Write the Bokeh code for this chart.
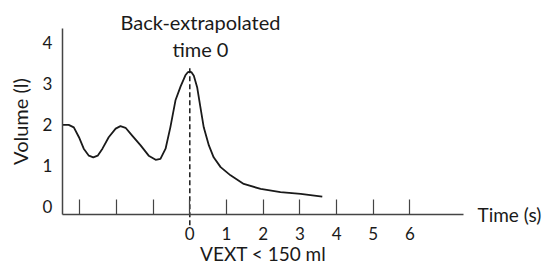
from bokeh.plotting import figure
from bokeh.models import LinearAxis, FixedTicker, Range1d
from bokeh.core.properties import value
from bokeh.embed import file_html
from bokeh.resources import INLINE

# Data
time_s = [-3.46, -3.30, -3.16, -3.02, -2.89, -2.75, -2.63, -2.51, -2.38, -2.21,
          -2.02, -1.89, -1.75, -1.57, -1.34, -1.12, -0.93, -0.80, -0.66, -0.53,
          -0.39, -0.25, -0.12, -0.06, 0.0, 0.05, 0.11, 0.20, 0.29, 0.38, 0.52, 0.65,
          0.84, 1.11, 1.47, 1.93, 2.47, 3.02, 3.61]
volume_l = [1.99, 1.99, 1.93, 1.69, 1.41, 1.24, 1.20, 1.24, 1.41, 1.69,
            1.90, 1.96, 1.92, 1.73, 1.49, 1.24, 1.14, 1.16, 1.41, 1.93,
            2.59, 2.93, 3.20, 3.27, 3.29, 3.27, 3.19, 2.91, 2.42, 1.93, 1.49, 1.20,
            0.96, 0.76, 0.55, 0.43, 0.35, 0.31, 0.24]
x_ticks = [-3, -2, -1, 0, 1, 2, 3, 4, 5, 6]
y_ticks = [0, 1, 2, 3, 4]
marker_x = [0, 0]
marker_y = [-0.46, 3.44]
annot_lines = ["Back-extrapolated", "time 0"]
x_label = "VEXT < 150 ml"
y_label = "Volume (l)"
t_label = "Time (s)"

FONT = "Lato"
INK = "#1a1a1a"
AX = "#444444"

XMIN, XMAX = -5.158, 9.774
YMIN, YMAX = -1.463, 5.024
X_AXIS_AT, Y_AXIS_AT = -0.2, -3.47

p = figure(width=548, height=266, output_backend="svg", toolbar_location=None,
           x_range=Range1d(XMIN, XMAX), y_range=Range1d(YMIN, YMAX),
           x_axis_location=None, y_axis_location=None,
           min_border_left=0, min_border_bottom=0, min_border_top=0, min_border_right=0)
p.outline_line_color = None
p.grid.visible = False
p.background_fill_color = "white"

xa = LinearAxis(ticker=FixedTicker(ticks=x_ticks), bounds=(Y_AXIS_AT, 7.46),
                fixed_location=X_AXIS_AT)
xa.major_label_overrides = {t: ("" if t < 0 else str(t)) for t in x_ticks}
xa.major_tick_in = 15
xa.major_tick_out = 0
xa.minor_tick_line_color = None
xa.major_label_standoff = 12
xa.major_label_text_font = FONT
xa.major_label_text_font_size = "17px"
xa.major_label_text_color = INK
xa.axis_line_color = AX
xa.axis_line_width = 1.5
xa.major_tick_line_color = AX
xa.major_tick_line_width = 1.2
p.add_layout(xa, "below")

ya = LinearAxis(ticker=FixedTicker(ticks=y_ticks), bounds=(X_AXIS_AT, 4.34),
                fixed_location=Y_AXIS_AT)
ya.major_tick_in = 0
ya.major_tick_out = 0
ya.minor_tick_line_color = None
ya.major_label_standoff = 10
ya.major_label_text_font = FONT
ya.major_label_text_font_size = "17px"
ya.major_label_text_color = INK
ya.axis_line_color = AX
ya.axis_line_width = 1.5
ya.axis_label = y_label
ya.axis_label_text_font = FONT
ya.axis_label_text_font_size = "20px"
ya.axis_label_text_font_style = "normal"
ya.axis_label_text_color = INK
ya.axis_label_standoff = 8
p.add_layout(ya, "left")

p.line(time_s, volume_l, line_color=INK, line_width=1.8, line_join="round")
p.line(marker_x, marker_y, line_color=INK, line_width=1.5, line_dash="5 3")

p.text(x=[0.29, 0.29], y=[4.49, 3.84], text=annot_lines,
       text_font=value(FONT), text_font_size="20px", text_color=INK,
       text_align="center", text_baseline="middle")
p.text(x=[7.84], y=[X_AXIS_AT], text=[t_label],
       text_font=value(FONT), text_font_size="19px", text_color=INK,
       text_align="left", text_baseline="middle")
p.text(x=[2.0], y=[-1.15], text=[x_label],
       text_font=value(FONT), text_font_size="19px", text_color=INK,
       text_align="center", text_baseline="middle")

open("out.html", "w").write(file_html(p, INLINE))
